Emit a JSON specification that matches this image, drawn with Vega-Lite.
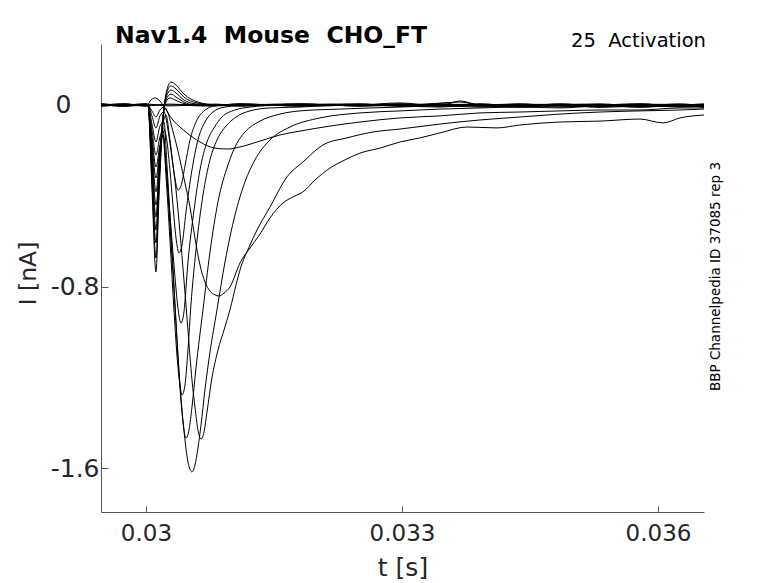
{
  "$schema": "https://vega.github.io/schema/vega-lite/v6.json",
  "description": "Nav1.4 activation current traces",
  "width": 603,
  "height": 468,
  "autosize": {"type": "none"},
  "padding": {"left": 101, "top": 44, "right": 74, "bottom": 71},
  "background": "white",
  "config": {"view": {"stroke": null}, "font": "DejaVu Sans"},
  "title": {
    "text": "Nav1.4\u00a0\u00a0Mouse\u00a0\u00a0CHO_FT",
    "anchor": "start",
    "frame": "group",
    "offset": 1,
    "dx": 14,
    "dy": 36,
    "baseline": "alphabetic",
    "font": "DejaVu Sans",
    "fontSize": 23.5,
    "fontWeight": "bold",
    "color": "black"
  },
  "datasets": {
    "traces": [
      {"s":"Z1","t":0.029473,"i":0},{"s":"Z1","t":0.029754,"i":0.004},{"s":"Z1","t":0.030000,"i":-0.004},{"s":"Z1","t":0.030281,"i":0.004},{"s":"Z1","t":0.030633,"i":-0.004},{"s":"Z1","t":0.031102,"i":0.004},{"s":"Z1","t":0.031805,"i":-0.004},{"s":"Z1","t":0.032508,"i":0},{"s":"Z1","t":0.032977,"i":0.009},{"s":"Z1","t":0.033445,"i":-0.004},{"s":"Z1","t":0.033680,"i":0.018},{"s":"Z1","t":0.033914,"i":0},{"s":"Z1","t":0.034383,"i":0.004},{"s":"Z1","t":0.034852,"i":-0.004},{"s":"Z1","t":0.035320,"i":0},{"s":"Z1","t":0.035789,"i":0.004},{"s":"Z1","t":0.036258,"i":-0.004},{"s":"Z1","t":0.036539,"i":0},

      {"s":"Z2","t":0.029473,"i":0.004},{"s":"Z2","t":0.029754,"i":-0.004},{"s":"Z2","t":0.030000,"i":0},{"s":"Z2","t":0.030281,"i":0},{"s":"Z2","t":0.030633,"i":0.004},{"s":"Z2","t":0.031102,"i":-0.004},{"s":"Z2","t":0.031805,"i":0.004},{"s":"Z2","t":0.032508,"i":-0.004},{"s":"Z2","t":0.032977,"i":0},{"s":"Z2","t":0.033445,"i":0.004},{"s":"Z2","t":0.033914,"i":-0.004},{"s":"Z2","t":0.034383,"i":0},{"s":"Z2","t":0.034852,"i":0.004},{"s":"Z2","t":0.035320,"i":-0.004},{"s":"Z2","t":0.035789,"i":0},{"s":"Z2","t":0.036258,"i":0.004},{"s":"Z2","t":0.036539,"i":-0.004},

      {"s":"Z3","t":0.029473,"i":-0.004},{"s":"Z3","t":0.029754,"i":0},{"s":"Z3","t":0.030000,"i":0.004},{"s":"Z3","t":0.030281,"i":-0.004},{"s":"Z3","t":0.030633,"i":0},{"s":"Z3","t":0.031102,"i":0},{"s":"Z3","t":0.031805,"i":-0.004},{"s":"Z3","t":0.032508,"i":0.004},{"s":"Z3","t":0.032977,"i":-0.004},{"s":"Z3","t":0.033445,"i":-0.009},{"s":"Z3","t":0.033914,"i":0.004},{"s":"Z3","t":0.034383,"i":-0.004},{"s":"Z3","t":0.034852,"i":0},{"s":"Z3","t":0.035320,"i":-0.009},{"s":"Z3","t":0.035789,"i":-0.004},{"s":"Z3","t":0.036258,"i":0},{"s":"Z3","t":0.036539,"i":-0.009},

      {"s":"R9","t":0.029473,"i":0},{"s":"R9","t":0.029754,"i":-0.004},{"s":"R9","t":0.030000,"i":0},{"s":"R9","t":0.030023,"i":0.004},{"s":"R9","t":0.030059,"i":0.022},{"s":"R9","t":0.030105,"i":0.031},{"s":"R9","t":0.030152,"i":0.022},{"s":"R9","t":0.030199,"i":0},{"s":"R9","t":0.030258,"i":-0.035},{"s":"R9","t":0.030316,"i":-0.066},{"s":"R9","t":0.030398,"i":-0.097},{"s":"R9","t":0.030480,"i":-0.123},{"s":"R9","t":0.030633,"i":-0.163},{"s":"R9","t":0.030809,"i":-0.190},{"s":"R9","t":0.030961,"i":-0.194},{"s":"R9","t":0.031102,"i":-0.185},{"s":"R9","t":0.031336,"i":-0.159},{"s":"R9","t":0.031570,"i":-0.132},{"s":"R9","t":0.031805,"i":-0.115},{"s":"R9","t":0.032156,"i":-0.093},{"s":"R9","t":0.032508,"i":-0.075},{"s":"R9","t":0.032977,"i":-0.057},{"s":"R9","t":0.033445,"i":-0.048},{"s":"R9","t":0.033914,"i":-0.035},{"s":"R9","t":0.034383,"i":-0.031},{"s":"R9","t":0.034852,"i":-0.026},{"s":"R9","t":0.035320,"i":-0.022},{"s":"R9","t":0.035789,"i":-0.022},{"s":"R9","t":0.036258,"i":-0.013},{"s":"R9","t":0.036539,"i":-0.013},

      {"s":"R8","t":0.029473,"i":0},{"s":"R8","t":0.029754,"i":-0.004},{"s":"R8","t":0.030000,"i":0.004},{"s":"R8","t":0.030023,"i":0},{"s":"R8","t":0.030070,"i":-0.026},{"s":"R8","t":0.030117,"i":-0.053},{"s":"R8","t":0.030164,"i":-0.022},{"s":"R8","t":0.030211,"i":-0.009},{"s":"R8","t":0.030258,"i":-0.035},{"s":"R8","t":0.030305,"i":-0.101},{"s":"R8","t":0.030352,"i":-0.167},{"s":"R8","t":0.030398,"i":-0.242},{"s":"R8","t":0.030457,"i":-0.344},{"s":"R8","t":0.030516,"i":-0.450},{"s":"R8","t":0.030574,"i":-0.586},{"s":"R8","t":0.030633,"i":-0.705},{"s":"R8","t":0.030691,"i":-0.780},{"s":"R8","t":0.030750,"i":-0.820},{"s":"R8","t":0.030809,"i":-0.837},{"s":"R8","t":0.030855,"i":-0.842},{"s":"R8","t":0.030914,"i":-0.829},{"s":"R8","t":0.030984,"i":-0.802},{"s":"R8","t":0.031102,"i":-0.696},{"s":"R8","t":0.031219,"i":-0.630},{"s":"R8","t":0.031336,"i":-0.569},{"s":"R8","t":0.031453,"i":-0.498},{"s":"R8","t":0.031605,"i":-0.432},{"s":"R8","t":0.031746,"i":-0.401},{"s":"R8","t":0.031840,"i":-0.383},{"s":"R8","t":0.031980,"i":-0.331},{"s":"R8","t":0.032156,"i":-0.278},{"s":"R8","t":0.032332,"i":-0.242},{"s":"R8","t":0.032508,"i":-0.212},{"s":"R8","t":0.032742,"i":-0.190},{"s":"R8","t":0.032977,"i":-0.163},{"s":"R8","t":0.033211,"i":-0.145},{"s":"R8","t":0.033445,"i":-0.123},{"s":"R8","t":0.033762,"i":-0.097},{"s":"R8","t":0.034113,"i":-0.101},{"s":"R8","t":0.034383,"i":-0.088},{"s":"R8","t":0.034852,"i":-0.075},{"s":"R8","t":0.035320,"i":-0.071},{"s":"R8","t":0.035789,"i":-0.062},{"s":"R8","t":0.036059,"i":-0.079},{"s":"R8","t":0.036258,"i":-0.057},{"s":"R8","t":0.036539,"i":-0.044},

      {"s":"R7","t":0.029473,"i":0.004},{"s":"R7","t":0.029754,"i":0},{"s":"R7","t":0.030000,"i":-0.004},{"s":"R7","t":0.030023,"i":0},{"s":"R7","t":0.030070,"i":-0.048},{"s":"R7","t":0.030117,"i":-0.101},{"s":"R7","t":0.030164,"i":-0.048},{"s":"R7","t":0.030211,"i":-0.031},{"s":"R7","t":0.030258,"i":-0.110},{"s":"R7","t":0.030305,"i":-0.234},{"s":"R7","t":0.030352,"i":-0.375},{"s":"R7","t":0.030398,"i":-0.560},{"s":"R7","t":0.030445,"i":-0.771},{"s":"R7","t":0.030492,"i":-0.992},{"s":"R7","t":0.030539,"i":-1.212},{"s":"R7","t":0.030574,"i":-1.331},{"s":"R7","t":0.030609,"i":-1.432},{"s":"R7","t":0.030645,"i":-1.472},{"s":"R7","t":0.030680,"i":-1.441},{"s":"R7","t":0.030715,"i":-1.353},{"s":"R7","t":0.030773,"i":-1.203},{"s":"R7","t":0.030844,"i":-1.080},{"s":"R7","t":0.030914,"i":-0.992},{"s":"R7","t":0.030984,"i":-0.903},{"s":"R7","t":0.031055,"i":-0.793},{"s":"R7","t":0.031102,"i":-0.727},{"s":"R7","t":0.031219,"i":-0.617},{"s":"R7","t":0.031301,"i":-0.551},{"s":"R7","t":0.031453,"i":-0.450},{"s":"R7","t":0.031652,"i":-0.317},{"s":"R7","t":0.031840,"i":-0.251},{"s":"R7","t":0.032074,"i":-0.176},{"s":"R7","t":0.032355,"i":-0.145},{"s":"R7","t":0.032660,"i":-0.119},{"s":"R7","t":0.032977,"i":-0.106},{"s":"R7","t":0.033445,"i":-0.084},{"s":"R7","t":0.033914,"i":-0.066},{"s":"R7","t":0.034383,"i":-0.053},{"s":"R7","t":0.034852,"i":-0.040},{"s":"R7","t":0.035320,"i":-0.031},{"s":"R7","t":0.035789,"i":-0.026},{"s":"R7","t":0.036258,"i":-0.022},{"s":"R7","t":0.036539,"i":-0.018},

      {"s":"R6","t":0.029473,"i":-0.004},{"s":"R6","t":0.029754,"i":0.004},{"s":"R6","t":0.030000,"i":0},{"s":"R6","t":0.030023,"i":0},{"s":"R6","t":0.030070,"i":-0.084},{"s":"R6","t":0.030117,"i":-0.163},{"s":"R6","t":0.030164,"i":-0.093},{"s":"R6","t":0.030211,"i":-0.075},{"s":"R6","t":0.030246,"i":-0.264},{"s":"R6","t":0.030281,"i":-0.485},{"s":"R6","t":0.030328,"i":-0.793},{"s":"R6","t":0.030375,"i":-1.102},{"s":"R6","t":0.030422,"i":-1.344},{"s":"R6","t":0.030457,"i":-1.476},{"s":"R6","t":0.030492,"i":-1.573},{"s":"R6","t":0.030539,"i":-1.617},{"s":"R6","t":0.030574,"i":-1.587},{"s":"R6","t":0.030609,"i":-1.512},{"s":"R6","t":0.030645,"i":-1.410},{"s":"R6","t":0.030691,"i":-1.256},{"s":"R6","t":0.030750,"i":-1.089},{"s":"R6","t":0.030832,"i":-0.903},{"s":"R6","t":0.030926,"i":-0.692},{"s":"R6","t":0.031043,"i":-0.485},{"s":"R6","t":0.031160,"i":-0.339},{"s":"R6","t":0.031277,"i":-0.242},{"s":"R6","t":0.031453,"i":-0.154},{"s":"R6","t":0.031688,"i":-0.097},{"s":"R6","t":0.032039,"i":-0.057},{"s":"R6","t":0.032508,"i":-0.035},{"s":"R6","t":0.032977,"i":-0.026},{"s":"R6","t":0.033445,"i":-0.018},{"s":"R6","t":0.033914,"i":-0.013},{"s":"R6","t":0.034383,"i":-0.009},{"s":"R6","t":0.034852,"i":-0.013},{"s":"R6","t":0.035320,"i":-0.004},{"s":"R6","t":0.035789,"i":-0.009},{"s":"R6","t":0.036258,"i":-0.004},{"s":"R6","t":0.036539,"i":-0.009},

      {"s":"R5","t":0.029473,"i":0},{"s":"R5","t":0.029754,"i":-0.004},{"s":"R5","t":0.030000,"i":0.004},{"s":"R5","t":0.030023,"i":0},{"s":"R5","t":0.030070,"i":-0.110},{"s":"R5","t":0.030117,"i":-0.220},{"s":"R5","t":0.030164,"i":-0.141},{"s":"R5","t":0.030199,"i":-0.110},{"s":"R5","t":0.030234,"i":-0.264},{"s":"R5","t":0.030281,"i":-0.529},{"s":"R5","t":0.030328,"i":-0.815},{"s":"R5","t":0.030363,"i":-1.036},{"s":"R5","t":0.030398,"i":-1.243},{"s":"R5","t":0.030434,"i":-1.397},{"s":"R5","t":0.030469,"i":-1.468},{"s":"R5","t":0.030504,"i":-1.432},{"s":"R5","t":0.030539,"i":-1.331},{"s":"R5","t":0.030586,"i":-1.159},{"s":"R5","t":0.030668,"i":-0.903},{"s":"R5","t":0.030750,"i":-0.648},{"s":"R5","t":0.030844,"i":-0.427},{"s":"R5","t":0.030961,"i":-0.264},{"s":"R5","t":0.031055,"i":-0.176},{"s":"R5","t":0.031160,"i":-0.119},{"s":"R5","t":0.031336,"i":-0.071},{"s":"R5","t":0.031570,"i":-0.040},{"s":"R5","t":0.031805,"i":-0.026},{"s":"R5","t":0.032273,"i":-0.018},{"s":"R5","t":0.032977,"i":-0.009},{"s":"R5","t":0.033445,"i":-0.004},{"s":"R5","t":0.033914,"i":-0.009},{"s":"R5","t":0.034383,"i":0},{"s":"R5","t":0.034852,"i":-0.004},{"s":"R5","t":0.035320,"i":-0.009},{"s":"R5","t":0.035789,"i":0},{"s":"R5","t":0.036258,"i":-0.004},{"s":"R5","t":0.036539,"i":0},

      {"s":"R4","t":0.029473,"i":0.004},{"s":"R4","t":0.029754,"i":0},{"s":"R4","t":0.030000,"i":0},{"s":"R4","t":0.030023,"i":0},{"s":"R4","t":0.030070,"i":-0.137},{"s":"R4","t":0.030117,"i":-0.273},{"s":"R4","t":0.030164,"i":-0.176},{"s":"R4","t":0.030199,"i":-0.132},{"s":"R4","t":0.030234,"i":-0.308},{"s":"R4","t":0.030281,"i":-0.595},{"s":"R4","t":0.030328,"i":-0.903},{"s":"R4","t":0.030363,"i":-1.102},{"s":"R4","t":0.030398,"i":-1.234},{"s":"R4","t":0.030422,"i":-1.278},{"s":"R4","t":0.030457,"i":-1.234},{"s":"R4","t":0.030492,"i":-1.080},{"s":"R4","t":0.030527,"i":-0.881},{"s":"R4","t":0.030586,"i":-0.639},{"s":"R4","t":0.030668,"i":-0.397},{"s":"R4","t":0.030750,"i":-0.242},{"s":"R4","t":0.030844,"i":-0.145},{"s":"R4","t":0.030938,"i":-0.093},{"s":"R4","t":0.031055,"i":-0.053},{"s":"R4","t":0.031219,"i":-0.026},{"s":"R4","t":0.031453,"i":-0.013},{"s":"R4","t":0.031805,"i":-0.009},{"s":"R4","t":0.032273,"i":0},{"s":"R4","t":0.032977,"i":-0.004},{"s":"R4","t":0.033445,"i":0.004},{"s":"R4","t":0.033914,"i":-0.004},{"s":"R4","t":0.034383,"i":-0.009},{"s":"R4","t":0.034852,"i":0},{"s":"R4","t":0.035320,"i":-0.004},{"s":"R4","t":0.035789,"i":-0.009},{"s":"R4","t":0.036258,"i":0},{"s":"R4","t":0.036539,"i":-0.004},

      {"s":"R3","t":0.029473,"i":0},{"s":"R3","t":0.029754,"i":0.004},{"s":"R3","t":0.030000,"i":-0.004},{"s":"R3","t":0.030023,"i":0},{"s":"R3","t":0.030070,"i":-0.163},{"s":"R3","t":0.030117,"i":-0.322},{"s":"R3","t":0.030164,"i":-0.190},{"s":"R3","t":0.030199,"i":-0.132},{"s":"R3","t":0.030234,"i":-0.264},{"s":"R3","t":0.030281,"i":-0.485},{"s":"R3","t":0.030328,"i":-0.705},{"s":"R3","t":0.030375,"i":-0.895},{"s":"R3","t":0.030410,"i":-0.961},{"s":"R3","t":0.030445,"i":-0.912},{"s":"R3","t":0.030492,"i":-0.692},{"s":"R3","t":0.030563,"i":-0.463},{"s":"R3","t":0.030633,"i":-0.286},{"s":"R3","t":0.030715,"i":-0.163},{"s":"R3","t":0.030797,"i":-0.101},{"s":"R3","t":0.030891,"i":-0.053},{"s":"R3","t":0.031043,"i":-0.022},{"s":"R3","t":0.031219,"i":-0.009},{"s":"R3","t":0.031570,"i":0},{"s":"R3","t":0.032156,"i":0.004},{"s":"R3","t":0.032977,"i":-0.004},{"s":"R3","t":0.033445,"i":0},{"s":"R3","t":0.033914,"i":0.004},{"s":"R3","t":0.034383,"i":-0.004},{"s":"R3","t":0.034852,"i":0},{"s":"R3","t":0.035320,"i":0.004},{"s":"R3","t":0.035789,"i":-0.004},{"s":"R3","t":0.036258,"i":0},{"s":"R3","t":0.036539,"i":0.004},

      {"s":"R2","t":0.029473,"i":-0.004},{"s":"R2","t":0.029754,"i":0},{"s":"R2","t":0.030000,"i":0.004},{"s":"R2","t":0.030023,"i":0},{"s":"R2","t":0.030070,"i":-0.190},{"s":"R2","t":0.030117,"i":-0.383},{"s":"R2","t":0.030164,"i":-0.198},{"s":"R2","t":0.030199,"i":-0.101},{"s":"R2","t":0.030234,"i":-0.132},{"s":"R2","t":0.030281,"i":-0.286},{"s":"R2","t":0.030316,"i":-0.441},{"s":"R2","t":0.030352,"i":-0.586},{"s":"R2","t":0.030387,"i":-0.652},{"s":"R2","t":0.030422,"i":-0.617},{"s":"R2","t":0.030469,"i":-0.472},{"s":"R2","t":0.030539,"i":-0.286},{"s":"R2","t":0.030609,"i":-0.154},{"s":"R2","t":0.030691,"i":-0.075},{"s":"R2","t":0.030785,"i":-0.031},{"s":"R2","t":0.030926,"i":-0.009},{"s":"R2","t":0.031219,"i":0},{"s":"R2","t":0.031805,"i":0.004},{"s":"R2","t":0.032508,"i":-0.004},{"s":"R2","t":0.032977,"i":0.004},{"s":"R2","t":0.033445,"i":-0.004},{"s":"R2","t":0.033914,"i":0},{"s":"R2","t":0.034383,"i":0.004},{"s":"R2","t":0.034852,"i":-0.004},{"s":"R2","t":0.035320,"i":0},{"s":"R2","t":0.035789,"i":0.004},{"s":"R2","t":0.036258,"i":-0.004},{"s":"R2","t":0.036539,"i":0},

      {"s":"R1","t":0.029473,"i":0},{"s":"R1","t":0.029754,"i":-0.004},{"s":"R1","t":0.030000,"i":0},{"s":"R1","t":0.030023,"i":0},{"s":"R1","t":0.030070,"i":-0.220},{"s":"R1","t":0.030117,"i":-0.441},{"s":"R1","t":0.030164,"i":-0.242},{"s":"R1","t":0.030199,"i":-0.088},{"s":"R1","t":0.030234,"i":-0.044},{"s":"R1","t":0.030281,"i":-0.154},{"s":"R1","t":0.030328,"i":-0.295},{"s":"R1","t":0.030375,"i":-0.375},{"s":"R1","t":0.030410,"i":-0.357},{"s":"R1","t":0.030457,"i":-0.269},{"s":"R1","t":0.030516,"i":-0.154},{"s":"R1","t":0.030586,"i":-0.075},{"s":"R1","t":0.030680,"i":-0.026},{"s":"R1","t":0.030809,"i":-0.004},{"s":"R1","t":0.031102,"i":0.004},{"s":"R1","t":0.031805,"i":0},{"s":"R1","t":0.032508,"i":0.004},{"s":"R1","t":0.032977,"i":-0.004},{"s":"R1","t":0.033445,"i":0},{"s":"R1","t":0.033914,"i":-0.004},{"s":"R1","t":0.034383,"i":0.004},{"s":"R1","t":0.034852,"i":0},{"s":"R1","t":0.035320,"i":-0.004},{"s":"R1","t":0.035789,"i":0.004},{"s":"R1","t":0.036258,"i":0},{"s":"R1","t":0.036539,"i":-0.004},

      {"s":"O1","t":0.029473,"i":0.004},{"s":"O1","t":0.029754,"i":0},{"s":"O1","t":0.030000,"i":0},{"s":"O1","t":0.030023,"i":0},{"s":"O1","t":0.030070,"i":-0.247},{"s":"O1","t":0.030117,"i":-0.494},{"s":"O1","t":0.030152,"i":-0.286},{"s":"O1","t":0.030188,"i":-0.088},{"s":"O1","t":0.030234,"i":0.013},{"s":"O1","t":0.030281,"i":0.031},{"s":"O1","t":0.030340,"i":0.022},{"s":"O1","t":0.030422,"i":0.009},{"s":"O1","t":0.030539,"i":0},{"s":"O1","t":0.030750,"i":-0.004},{"s":"O1","t":0.031102,"i":0.004},{"s":"O1","t":0.031805,"i":-0.004},{"s":"O1","t":0.032508,"i":0},{"s":"O1","t":0.032977,"i":0.004},{"s":"O1","t":0.033445,"i":-0.004},{"s":"O1","t":0.033914,"i":0},{"s":"O1","t":0.034383,"i":-0.009},{"s":"O1","t":0.034852,"i":0},{"s":"O1","t":0.035320,"i":0.004},{"s":"O1","t":0.035789,"i":-0.004},{"s":"O1","t":0.036258,"i":0},{"s":"O1","t":0.036539,"i":-0.009},

      {"s":"O2","t":0.029473,"i":0},{"s":"O2","t":0.029754,"i":0.004},{"s":"O2","t":0.030000,"i":-0.004},{"s":"O2","t":0.030023,"i":0},{"s":"O2","t":0.030070,"i":-0.273},{"s":"O2","t":0.030117,"i":-0.551},{"s":"O2","t":0.030152,"i":-0.308},{"s":"O2","t":0.030188,"i":-0.101},{"s":"O2","t":0.030234,"i":0.022},{"s":"O2","t":0.030293,"i":0.048},{"s":"O2","t":0.030352,"i":0.035},{"s":"O2","t":0.030445,"i":0.013},{"s":"O2","t":0.030574,"i":0},{"s":"O2","t":0.030809,"i":0.004},{"s":"O2","t":0.031102,"i":-0.004},{"s":"O2","t":0.031805,"i":0},{"s":"O2","t":0.032508,"i":0.004},{"s":"O2","t":0.032977,"i":-0.004},{"s":"O2","t":0.033680,"i":0.013},{"s":"O2","t":0.033914,"i":0},{"s":"O2","t":0.034383,"i":-0.004},{"s":"O2","t":0.034852,"i":0.004},{"s":"O2","t":0.035320,"i":-0.004},{"s":"O2","t":0.035789,"i":0},{"s":"O2","t":0.036258,"i":-0.009},{"s":"O2","t":0.036539,"i":-0.004},

      {"s":"O3","t":0.029473,"i":-0.004},{"s":"O3","t":0.029754,"i":0},{"s":"O3","t":0.030000,"i":0.004},{"s":"O3","t":0.030023,"i":0},{"s":"O3","t":0.030070,"i":-0.304},{"s":"O3","t":0.030117,"i":-0.608},{"s":"O3","t":0.030152,"i":-0.339},{"s":"O3","t":0.030188,"i":-0.110},{"s":"O3","t":0.030234,"i":0.031},{"s":"O3","t":0.030293,"i":0.066},{"s":"O3","t":0.030352,"i":0.053},{"s":"O3","t":0.030445,"i":0.022},{"s":"O3","t":0.030586,"i":0.004},{"s":"O3","t":0.030809,"i":-0.004},{"s":"O3","t":0.031102,"i":0},{"s":"O3","t":0.031805,"i":0.004},{"s":"O3","t":0.032508,"i":-0.004},{"s":"O3","t":0.032977,"i":0},{"s":"O3","t":0.033445,"i":0.004},{"s":"O3","t":0.033914,"i":-0.004},{"s":"O3","t":0.034383,"i":0},{"s":"O3","t":0.034852,"i":-0.009},{"s":"O3","t":0.035320,"i":0},{"s":"O3","t":0.035789,"i":0.004},{"s":"O3","t":0.036258,"i":-0.004},{"s":"O3","t":0.036539,"i":0},

      {"s":"O4","t":0.029473,"i":0},{"s":"O4","t":0.029754,"i":-0.004},{"s":"O4","t":0.030000,"i":0},{"s":"O4","t":0.030023,"i":0},{"s":"O4","t":0.030070,"i":-0.335},{"s":"O4","t":0.030117,"i":-0.674},{"s":"O4","t":0.030152,"i":-0.375},{"s":"O4","t":0.030188,"i":-0.119},{"s":"O4","t":0.030234,"i":0.040},{"s":"O4","t":0.030293,"i":0.084},{"s":"O4","t":0.030352,"i":0.071},{"s":"O4","t":0.030445,"i":0.035},{"s":"O4","t":0.030598,"i":0.009},{"s":"O4","t":0.030809,"i":0},{"s":"O4","t":0.031102,"i":0.004},{"s":"O4","t":0.031805,"i":-0.004},{"s":"O4","t":0.032508,"i":0},{"s":"O4","t":0.032977,"i":0.004},{"s":"O4","t":0.033445,"i":-0.004},{"s":"O4","t":0.033914,"i":0.004},{"s":"O4","t":0.034383,"i":-0.004},{"s":"O4","t":0.034852,"i":0},{"s":"O4","t":0.035320,"i":-0.009},{"s":"O4","t":0.035789,"i":-0.004},{"s":"O4","t":0.036258,"i":0.004},{"s":"O4","t":0.036539,"i":-0.004},

      {"s":"O5","t":0.029473,"i":0.004},{"s":"O5","t":0.029754,"i":0},{"s":"O5","t":0.030000,"i":0},{"s":"O5","t":0.030023,"i":0},{"s":"O5","t":0.030070,"i":-0.366},{"s":"O5","t":0.030117,"i":-0.736},{"s":"O5","t":0.030152,"i":-0.410},{"s":"O5","t":0.030188,"i":-0.132},{"s":"O5","t":0.030234,"i":0.048},{"s":"O5","t":0.030293,"i":0.101},{"s":"O5","t":0.030352,"i":0.088},{"s":"O5","t":0.030445,"i":0.048},{"s":"O5","t":0.030609,"i":0.013},{"s":"O5","t":0.030809,"i":0},{"s":"O5","t":0.031102,"i":-0.004},{"s":"O5","t":0.031805,"i":0.004},{"s":"O5","t":0.032508,"i":-0.004},{"s":"O5","t":0.032977,"i":0},{"s":"O5","t":0.033445,"i":0.004},{"s":"O5","t":0.033914,"i":0},{"s":"O5","t":0.034383,"i":-0.004},{"s":"O5","t":0.034852,"i":0.004},{"s":"O5","t":0.035320,"i":0},{"s":"O5","t":0.035789,"i":-0.009},{"s":"O5","t":0.036258,"i":0},{"s":"O5","t":0.036539,"i":0.004}
    ]
  },
  "layer": [
    {
      "data": {"name": "traces"},
      "mark": {"type": "line", "stroke": "black", "strokeWidth": 1, "interpolate": "monotone"},
      "encoding": {
        "x": {
          "field": "t",
          "type": "quantitative",
          "scale": {"domain": [0.029473, 0.036539], "nice": false, "zero": false},
          "axis": {
            "values": [0.03, 0.033, 0.036],
            "labelExpr": "toString(datum.value)",
            "title": "t [s]",
            "grid": false,
            "domainColor": "#555555",
            "tickColor": "#555555",
            "tickSize": -6,
            "labelPadding": 16,
            "labelFont": "DejaVu Sans",
            "labelFontSize": 23,
            "labelColor": "#262626",
            "labelFlush": false,
            "labelOverlap": false,
            "titleFont": "DejaVu Sans",
            "titleFontSize": 25,
            "titleFontWeight": "normal",
            "titleColor": "#262626",
            "titleY": 63,
            "titleBaseline": "alphabetic"
          }
        },
        "y": {
          "field": "i",
          "type": "quantitative",
          "scale": {"domain": [-1.7937, 0.2688], "nice": false, "zero": false},
          "axis": {
            "values": [-1.6, -0.8, 0],
            "labelExpr": "toString(datum.value)",
            "title": "I [nA]",
            "grid": false,
            "domainColor": "#555555",
            "tickColor": "#555555",
            "tickSize": -7,
            "labelPadding": {"condition": {"test": "datum.value == 0", "value": 37}, "value": 9},
            "labelFont": "DejaVu Sans",
            "labelFontSize": 25,
            "labelColor": "#262626",
            "labelFlush": false,
            "labelOverlap": false,
            "titleFont": "DejaVu Sans",
            "titleFontSize": 23.5,
            "titleFontWeight": "normal",
            "titleColor": "#262626",
            "titleX": -66,
            "titleY": 229,
            "titleBaseline": "alphabetic"
          }
        },
        "detail": {"field": "s", "type": "nominal"}
      }
    },
    {
      "data": {"values": [{}]},
      "mark": {"type": "text", "text": "25\u00a0\u00a0Activation", "align": "right", "baseline": "alphabetic", "font": "DejaVu Sans", "fontSize": 19.5, "color": "black"},
      "encoding": {
        "x": {"datum": 0.036562, "type": "quantitative"},
        "y": {"datum": 0.2534, "type": "quantitative"}
      }
    },
    {
      "data": {"values": [{}]},
      "mark": {"type": "text", "text": "BBP Channelpedia ID 37085 rep 3", "angle": 270, "align": "center", "baseline": "middle", "font": "DejaVu Sans", "fontSize": 13.5, "color": "black"},
      "encoding": {
        "x": {"datum": 0.03668, "type": "quantitative"},
        "y": {"datum": -0.756, "type": "quantitative"}
      }
    }
  ]
}
